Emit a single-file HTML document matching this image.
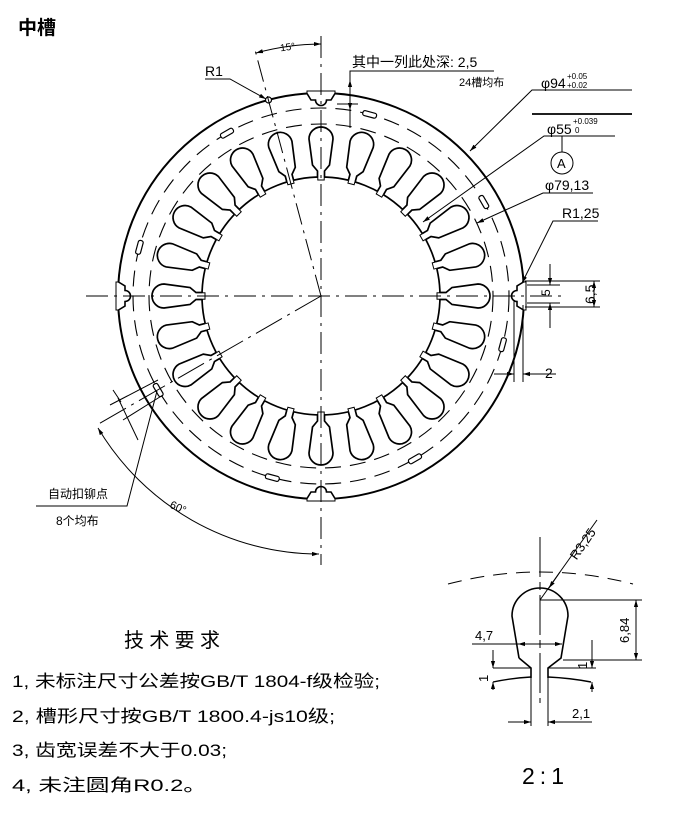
<!DOCTYPE html>
<html><head><meta charset="utf-8"><style>
html,body{margin:0;padding:0;background:#fff}
svg{display:block}
text{font-family:"Liberation Sans","Noto Sans CJK SC",sans-serif;fill:#000}
</style></head><body>
<svg width="700" height="813" viewBox="0 0 700 813" xmlns="http://www.w3.org/2000/svg">
<defs>
<marker id="ar" viewBox="0 0 10 10" refX="10" refY="5" markerWidth="7" markerHeight="7" orient="auto-start-reverse"><path d="M0,2 L10,5 L0,8 z" fill="#000"/></marker>
<g id="slot">
<rect x="-3.2" y="-122" width="6.4" height="6" fill="#fff"/>
<path d="M-3.5,-119 L-3.5,-125 L-8.5,-131 L-12,-157 A12,12 0 0 1 12,-157 L8.5,-131 L3.5,-125 L3.5,-119" fill="#fff" stroke="#000" stroke-width="1.7"/>
</g>
<g id="notch">
<path d="M-14,-205 L-14,-202.5 L-10,-196 L-5.5,-196 A5.5,5.5 0 0 0 5.5,-196 L10,-196 L14,-202.5 L14,-205 Z" fill="#fff"/>
<path d="M-14,-202.5 L-10,-196 L-5.5,-196 A5.5,5.5 0 0 0 5.5,-196 L10,-196 L14,-202.5" fill="none" stroke="#000" stroke-width="1.6"/>
</g>
<rect id="riv" x="-7" y="-190.5" width="14" height="5" rx="2" fill="#fff" stroke="#000" stroke-width="1.2"/>
</defs>

<text x="18" y="34" font-size="19" font-weight="bold">中槽</text>

<g transform="translate(321,296)" fill="none" stroke="#000">
<circle r="203" stroke-width="2"/>
<circle r="188" stroke-width="1.1" stroke-dasharray="16,9"/>
<circle r="172" stroke-width="1.1" stroke-dasharray="16,9"/>
<circle r="119" stroke-width="1.7"/>
<use href="#slot" transform="rotate(0)"/><use href="#slot" transform="rotate(15)"/><use href="#slot" transform="rotate(30)"/><use href="#slot" transform="rotate(45)"/>
<use href="#slot" transform="rotate(60)"/><use href="#slot" transform="rotate(75)"/><use href="#slot" transform="rotate(90)"/><use href="#slot" transform="rotate(105)"/>
<use href="#slot" transform="rotate(120)"/><use href="#slot" transform="rotate(135)"/><use href="#slot" transform="rotate(150)"/><use href="#slot" transform="rotate(165)"/>
<use href="#slot" transform="rotate(180)"/><use href="#slot" transform="rotate(195)"/><use href="#slot" transform="rotate(210)"/><use href="#slot" transform="rotate(225)"/>
<use href="#slot" transform="rotate(240)"/><use href="#slot" transform="rotate(255)"/><use href="#slot" transform="rotate(270)"/><use href="#slot" transform="rotate(285)"/>
<use href="#slot" transform="rotate(300)"/><use href="#slot" transform="rotate(315)"/><use href="#slot" transform="rotate(330)"/><use href="#slot" transform="rotate(345)"/>
<use href="#notch" transform="rotate(0)"/><use href="#notch" transform="rotate(90)"/><use href="#notch" transform="rotate(180)"/><use href="#notch" transform="rotate(270)"/>
<use href="#riv" transform="rotate(15)"/><use href="#riv" transform="rotate(60)"/><use href="#riv" transform="rotate(105)"/><use href="#riv" transform="rotate(150)"/>
<use href="#riv" transform="rotate(195)"/><use href="#riv" transform="rotate(240)"/><use href="#riv" transform="rotate(285)"/><use href="#riv" transform="rotate(330)"/>
<circle cx="-52.5" cy="-196" r="3" fill="#fff" stroke-width="1.2"/>
</g>

<g fill="none" stroke="#000" stroke-width="1">
<line x1="86" y1="296" x2="562" y2="296" stroke-dasharray="22,6,3,6"/>
<line x1="321" y1="36" x2="321" y2="565" stroke-dasharray="22,6,3,6"/>
<line x1="321" y1="296" x2="255" y2="50" stroke-dasharray="22,6,3,6"/>
<line x1="321" y1="296" x2="95" y2="426" stroke-dasharray="30,6,3,6"/>
<path d="M256,53 A252,252 0 0 1 321,44" marker-start="url(#ar)" marker-end="url(#ar)"/>
<path d="M98,428 A258,258 0 0 0 319,554" marker-start="url(#ar)" marker-end="url(#ar)"/>
<polyline points="205,79 230,79 266,99" marker-end="url(#ar)"/>
<polyline points="494,71 350,71 350,128"/>
<line x1="350" y1="92" x2="350" y2="80" marker-end="url(#ar)"/>
<line x1="350" y1="104" x2="350" y2="110" marker-end="url(#ar)"/>
<line x1="337" y1="104" x2="358" y2="104"/>
<polyline points="632,90 532,90 470,151" marker-end="url(#ar)"/>
<line x1="532" y1="114" x2="632" y2="114" stroke-width="1.8"/>
<polyline points="615,136 544,136 423,222" marker-end="url(#ar)"/>
<line x1="562" y1="136" x2="562" y2="152"/>
<circle cx="562" cy="163" r="11"/>
<polyline points="593,193 543,193 477,223" marker-end="url(#ar)"/>
<polyline points="598,221 553,221 522,283" marker-end="url(#ar)"/>
<line x1="525" y1="281" x2="600" y2="281"/><line x1="525" y1="307" x2="600" y2="307"/>
<line x1="527" y1="285" x2="560" y2="285"/><line x1="527" y1="303" x2="560" y2="303"/>
<line x1="550" y1="264" x2="550" y2="285" marker-end="url(#ar)"/>
<line x1="550" y1="328" x2="550" y2="303" marker-end="url(#ar)"/>
<line x1="594" y1="294" x2="594" y2="281" marker-end="url(#ar)"/>
<line x1="594" y1="294" x2="594" y2="307" marker-end="url(#ar)"/>
<line x1="514" y1="300" x2="514" y2="382"/><line x1="523" y1="305" x2="523" y2="382"/>
<line x1="494" y1="374" x2="514" y2="374" marker-end="url(#ar)"/>
<line x1="556" y1="374" x2="523" y2="374" marker-end="url(#ar)"/>
<polyline points="36,506 127,506 157,391"/>
<line x1="118" y1="398" x2="138" y2="440"/><line x1="110" y1="405" x2="158" y2="380"/><line x1="123" y1="420" x2="163" y2="395"/>
<line x1="113" y1="390" x2="121" y2="402"/>
<path d="M448,584 Q540,560 633,584" stroke-dasharray="14,9"/>
<path d="M519,658 L512,616 A28,28 0 1 1 568,616 L561,658 L548,668 L548,678 M519,658 L531,668 L531,678" stroke-width="1.6"/>
<path d="M493,682 Q512,678 531,677 M548,677 Q570,678 591,682" stroke-width="1.4"/>
<line x1="540" y1="537" x2="540" y2="703" stroke-dasharray="40,5,8,5"/>
<line x1="540" y1="600" x2="597" y2="520"/><line x1="560" y1="572" x2="549" y2="588" marker-end="url(#ar)"/>
<line x1="540" y1="600" x2="642" y2="600"/><line x1="563" y1="660" x2="642" y2="660"/>
<line x1="636" y1="630" x2="636" y2="600" marker-end="url(#ar)"/><line x1="636" y1="630" x2="636" y2="660" marker-end="url(#ar)"/>
<line x1="472" y1="644" x2="560" y2="644"/>
<line x1="540" y1="644" x2="518" y2="644" marker-end="url(#ar)"/><line x1="540" y1="644" x2="562" y2="644" marker-end="url(#ar)"/>
<line x1="493" y1="668" x2="531" y2="668"/><line x1="548" y1="668" x2="596" y2="668"/>
<line x1="493" y1="650" x2="493" y2="668" marker-end="url(#ar)"/><line x1="493" y1="690" x2="493" y2="682" marker-end="url(#ar)"/>
<line x1="592" y1="640" x2="592" y2="668" marker-end="url(#ar)"/><line x1="592" y1="692" x2="592" y2="682" marker-end="url(#ar)"/>
<line x1="531" y1="678" x2="531" y2="726"/><line x1="548" y1="678" x2="548" y2="726"/>
<line x1="508" y1="722" x2="531" y2="722" marker-end="url(#ar)"/><line x1="592" y1="722" x2="548" y2="722" marker-end="url(#ar)"/>
</g>

<g font-size="12">
<text x="280" y="51" font-size="10" transform="rotate(-8 283 47)">15°</text>
<text x="205" y="76" font-size="14">R1</text>
<text x="352" y="67" font-size="14">其中一列此处深: 2,5</text>
<text x="459" y="86" font-size="11">24槽均布</text>
<text x="541" y="88" font-size="14">φ94</text><text x="567" y="79" font-size="8">+0.05</text><text x="567" y="88" font-size="8">+0.02</text>
<text x="547" y="134" font-size="14">φ55</text><text x="573" y="124" font-size="8">+0.039</text><text x="575" y="133" font-size="8">0</text>
<text x="557" y="168" font-size="13">A</text>
<text x="545" y="190" font-size="14">φ79,13</text>
<text x="562" y="218" font-size="14">R1,25</text>
<text x="546" y="300" font-size="12" transform="rotate(-90 546 296)">5</text>
<text x="580" y="303" font-size="14" transform="rotate(-90 588 296)">6,5</text>
<text x="545" y="378" font-size="14">2</text>
<text x="48" y="498" font-size="12">自动扣铆点</text>
<text x="56" y="525" font-size="12">8个均布</text>
<text x="170" y="511" font-size="11" transform="rotate(25 178 507)">60°</text>
<text x="559" y="553" font-size="13" transform="rotate(-55 575 540)">R3,25</text>
<text x="612" y="634" font-size="13" transform="rotate(-90 625 630)">6,84</text>
<text x="475" y="640" font-size="13">4,7</text>
<text x="478" y="678" font-size="13" transform="rotate(-90 485 675)">1</text>
<text x="576" y="666" font-size="13" transform="rotate(-90 583 662)">1</text>
<text x="572" y="718" font-size="13">2,1</text>
</g>

<g font-family="'Liberation Mono','Noto Sans CJK SC',monospace">
<text x="124" y="647" font-size="20" font-family="'Liberation Sans','Noto Sans CJK SC',sans-serif" textLength="96">技术要求</text>
<text x="12" y="687" font-size="17" textLength="368" lengthAdjust="spacingAndGlyphs">1, 未标注尺寸公差按GB/T  1804-f级检验;</text>
<text x="12" y="722" font-size="17" textLength="323" lengthAdjust="spacingAndGlyphs">2, 槽形尺寸按GB/T  1800.4-js10级;</text>
<text x="12" y="756" font-size="17" textLength="215" lengthAdjust="spacingAndGlyphs">3, 齿宽误差不大于0.03;</text>
<text x="12" y="791" font-size="17" textLength="195" lengthAdjust="spacingAndGlyphs">4, 未注圆角R0.2。</text>
<text x="522" y="784" font-size="23" textLength="42">2:1</text>
</g>
</svg>
</body></html>
